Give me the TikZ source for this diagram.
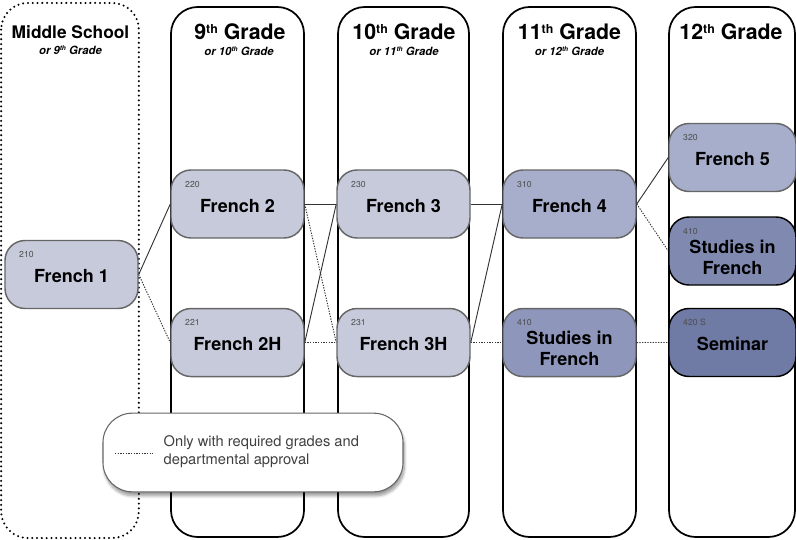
\documentclass[tikz,border=0pt]{standalone}
\usepackage{fontspec}
\usepackage{graphicx}
\setmainfont{TeX Gyre Heros}
\usetikzlibrary{positioning,shadows.blur}

\definecolor{lightc}{HTML}{C6CADB}
\definecolor{midc}{HTML}{A6AECB}
\definecolor{deepc}{HTML}{8E97BB}
\definecolor{darkc}{HTML}{808AB1}
\definecolor{darkerc}{HTML}{6F7BA5}

\newcommand\sups[1]{\raisebox{0.3em}{\scalebox{0.58}{#1}}}

\tikzset{
  column/.style={draw=black, line width=1.3pt, rounded corners=20pt,
    minimum width=99.75pt, minimum height=397.5pt, inner sep=0pt},
  course/.style={draw=black!60, line width=1.1pt, rounded corners=15pt, fill=#1,
    minimum width=99.75pt, minimum height=51pt, inner sep=0pt, align=center,
    text height=12pt, text depth=0pt,
    font=\bfseries\fontsize{13.5}{16}\selectfont},
  twoline/.style={text height=35pt},
  num/.style={font=\fontsize{6.5}{7}\selectfont, text=black!70, inner sep=0pt,
    anchor=north west, xshift=11pt, yshift=-8.5pt},
  head/.style={font=\bfseries\fontsize{16}{18}\selectfont},
  subhead/.style={font=\bfseries\itshape\fontsize{8.5}{10}\selectfont},
  link/.style={draw=black!80, line width=0.7pt},
  maybe/.style={link, dash pattern=on 1pt off 1pt}
}

\begin{document}
\begin{tikzpicture}[x=0.75pt,y=-0.75pt,on grid,node distance=103.9pt and 124.5pt]
\useasboundingbox (0,0) rectangle (796,539);

% year columns
\node[column, draw=none] (ms) at (70,270.5) [minimum width=102pt, minimum height=400pt] {};
\draw[line width=1.7pt, line cap=round, dash pattern=on 0pt off 3.6pt, rounded corners=20pt]
  (ms.north west) rectangle (ms.south east);
\node[column] (g9)  at (237.5,272) {};
\node[column] (g10) at (403.5,272) [minimum width=98.25pt] {};
\node[column] (g11) at (569.5,272) {};
\node[column] (g12) at (732,272) [minimum width=94.5pt] {};

\node[head, font=\bfseries\fontsize{13}{15}\selectfont] (h0) at (70.5,32) {Middle School};
\node[subhead] (s0) at (70.5,50) {or 9\sups{th} Grade};
\node[head] (h9)  at (240,32) {9\sups{th} Grade};
\node[subhead] (s9)  at (239,51) {or 10\sups{th} Grade};
\node[head] (h10) at (404,32) {10\sups{th} Grade};
\node[subhead] (s10) at (404,51) {or 11\sups{th} Grade};
\node[head] (h11) at (569.5,32) {11\sups{th} Grade};
\node[subhead] (s11) at (569.5,51) {or 12\sups{th} Grade};
\node[head] (h12) at (731,32) {12\sups{th} Grade};

% courses
\node[course=lightc, label={[num]north west:210}] (f1)  at (71.5,274.5) {French 1};
\node[course=lightc, label={[num]north west:220}] (f2)  at (237.5,204) {French 2};
\node[course=lightc, label={[num]north west:221}] (f2h) [below=of f2] {French 2H};
\node[course=lightc, label={[num]north west:230}] (f3)  [right=of f2] {French 3};
\node[course=lightc, label={[num]north west:231}] (f3h) [below=of f3] {French 3H};
\node[course=midc,   label={[num]north west:310}] (f4)  [right=of f3] {French 4};
\node[course=deepc,  twoline, label={[num]north west:410}] (sf11) [below=of f4] {Studies in\\French};
\node[course=midc,   label={[num]north west:320}, minimum width=95.25pt] (f5) at (732.5,157.5) {French 5};
\node[course=darkc,  twoline, label={[num]north west:410}, minimum width=95.25pt, draw=black] (sf12) at (732.5,251) {Studies in\\French};
\node[course=darkerc, label={[num]north west:420 S}, minimum width=95.25pt, draw=black] (sem) at (732.5,342.5) {Seminar};

\path
  (f1.east)   edge[link]  (f2.west)
  (f1.east)   edge[maybe] (f2h.west)
  (f2.east)   edge[link]  (f3.west)
  (f2.east)   edge[maybe] (f3h.west)
  (f2h.east)  edge[link]  (f3.west)
  (f2h.east)  edge[maybe] (f3h.west)
  (f3.east)   edge[link]  (f4.west)
  (f3h.east)  edge[link]  (f4.west)
  (f3h.east)  edge[maybe] (sf11.west)
  (f4.east)   edge[link]  (f5.west)
  (f4.east)   edge[maybe] (sf12.west)
  (sf11.east) edge[maybe] (sem.west)
;

% key
\node[draw=black!60, line width=0.8pt, fill=white, rounded corners=22pt,
  minimum width=225pt, minimum height=59pt,
  blur shadow={shadow xshift=1pt, shadow yshift=-3pt, shadow blur steps=8, shadow opacity=40}] (key) at (253,452.5) {};
\node[anchor=west, align=left, text=black!75, font=\fontsize{11}{13.5}\selectfont] (keytxt) at (159,451.5)
  {Only with required grades and\\departmental approval};
\coordinate (ka) at (115,453);
\coordinate (kb) at (153,453);
\draw[maybe] (ka) -- (kb);
\end{tikzpicture}
\end{document}
